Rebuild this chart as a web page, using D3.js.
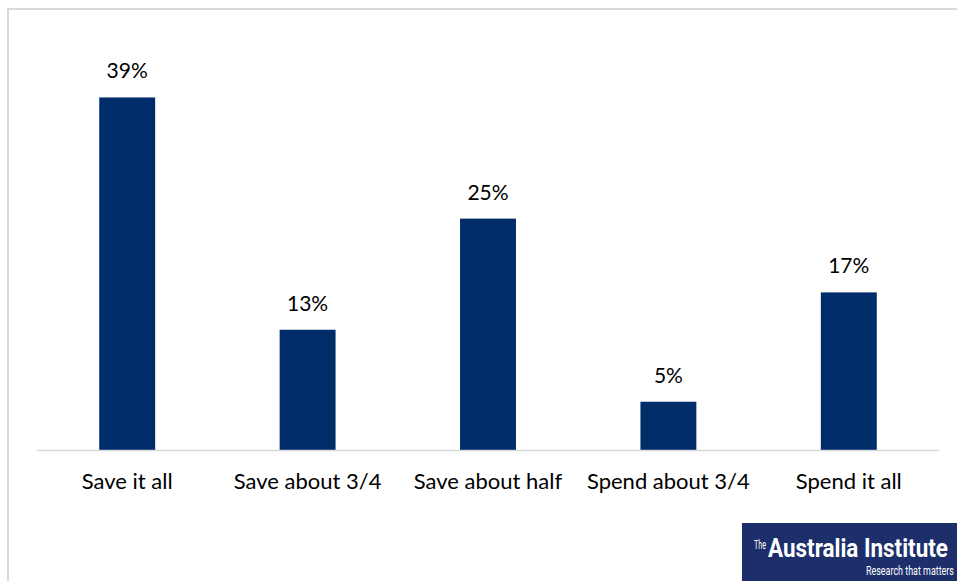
<!DOCTYPE html>
<html><head><meta charset="utf-8">
<script src="https://cdn.jsdelivr.net/npm/d3@7/dist/d3.min.js"></script>
<style>html,body{margin:0;padding:0;background:#fff;overflow:hidden}</style>
</head><body>
<svg id="c" width="957" height="581"></svg>
<script>
const categories = ["Save it all","Save about 3/4","Save about half","Spend about 3/4","Spend it all"];
const values = [38.7, 13.2, 25.4, 5.3, 17.3];

const svg = d3.select("#c");
const font = "Lato, 'Liberation Sans', sans-serif";

// outer border
svg.append("rect").attr("x",8).attr("y",9).attr("width",980).attr("height",600)
  .attr("fill","none").attr("stroke","#d9d9d9").attr("stroke-width",2);

const x = d3.scaleBand().domain(categories).range([37,939]).paddingInner(0.69).paddingOuter(0.345);
const y = d3.scaleLinear().domain([0,40]).range([450, 450-40*9.11]);

svg.selectAll("rect.bar").data(values).join("rect").attr("class","bar")
  .attr("x",(d,i)=>x(categories[i])).attr("width",x.bandwidth())
  .attr("y",d=>y(d)).attr("height",d=>y(0)-y(d)).attr("fill","#002d6a");

svg.append("line").attr("x1",37).attr("x2",939).attr("y1",y(0)+0.5).attr("y2",y(0)+0.5)
  .attr("stroke","#d9d9d9").attr("stroke-width",1.5);

svg.selectAll("text.val").data(values).join("text").attr("class","val")
  .attr("x",(d,i)=>x(categories[i])+x.bandwidth()/2).attr("y",d=>y(d)-19)
  .attr("text-anchor","middle").attr("font-family",font).attr("font-size",21).attr("fill","#000")
  .text(d=>Math.round(d)+"%");

const xa = svg.append("g").attr("transform",`translate(0,${y(0)})`)
  .call(d3.axisBottom(x).tickSize(0).tickPadding(0));
xa.select(".domain").remove();
xa.selectAll("text").attr("dy",0).attr("y",39).attr("font-family",font).attr("font-size",22).attr("fill","#000");

// logo
const logo = svg.append("g");
logo.append("rect").attr("x",742).attr("y",523).attr("width",215).attr("height",58).attr("fill","#1d2f6b");
function fitText(x0, y0, w, size, weight, str){
  const g = logo.append("g");
  const t = g.append("text").attr("x",0).attr("y",0).attr("fill","#fff").attr("font-family","Roboto,sans-serif")
    .attr("font-size",size).attr("font-weight",weight).text(str);
  const nat = t.node().getComputedTextLength();
  g.attr("transform",`translate(${x0},${y0}) scale(${Math.min(1,w/nat)},1)`);
}
fitText(754, 549, 12, 12, "normal", "The");
fitText(768, 557, 180, 25, "bold", "Australia Institute");
fitText(866, 575, 88, 12, "normal", "Research that matters");
</script>
</body></html>
